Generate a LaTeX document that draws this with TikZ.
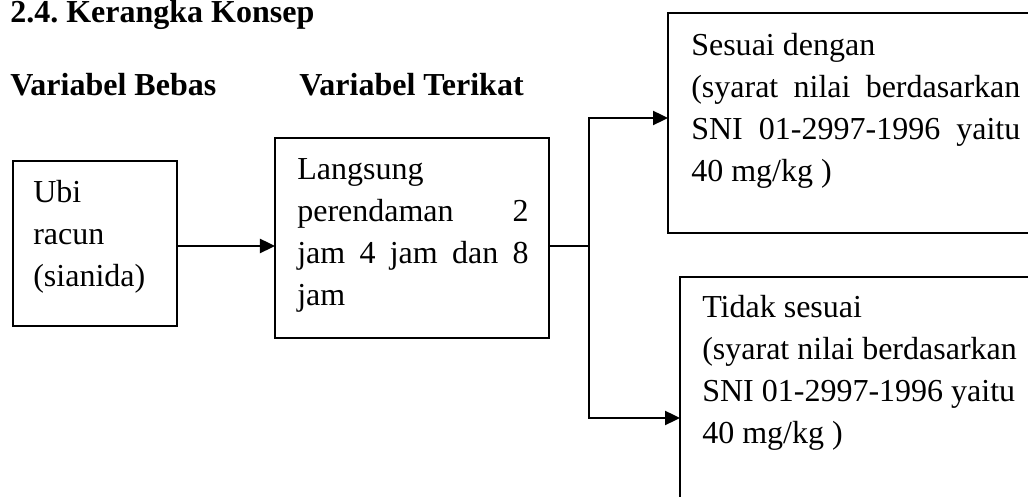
\documentclass[tikz,border=0pt]{standalone}
\usepackage{fontspec}
\setmainfont{Liberation Serif}
\usetikzlibrary{positioning}
\usetikzlibrary{arrows.meta}
\frenchspacing
\tikzset{
    every node/.append style={
        font=\fontsize{22.76pt}{29.88pt}\selectfont
    },
    kotak/.style={
        draw,
        rectangle,
        line width=1.1pt,
        inner sep=0pt,
        outer sep=0pt,
        anchor=north west
    },
    isi/.style={
        align=left,
        inner sep=0pt,
        anchor=north west
    },
    judul/.style={
        font=\fontsize{22.76pt}{29.88pt}\selectfont\bfseries,
        inner sep=0pt,
        anchor=base west
    },
    panah/.style={
        line width=1.7pt,
        -{Triangle[length=0.375cm, width=0.35cm]}
    },
    garis/.style={
        line width=1pt
    }
}

\begin{document}
\begin{tikzpicture}[x=0.025cm, y=-0.025cm]
            \useasboundingbox (0,0) rectangle (1028,497);
            \clip (0,0) rectangle (1028,497);

            \node[judul] (judul) at (10,23) {2.4. Kerangka Konsep};
            \node[judul] (bebas) at (10,96) {Variabel Bebas};
            \node[judul] (terikat) at (299,96) {Variabel Terikat};

            \node[kotak, minimum width=4.1cm, minimum height=4.125cm] (ubi) at (13,161) {};
            \node[kotak, minimum width=6.85cm, minimum height=5cm] (rendam) at (275,138) {};
            \node[kotak, minimum width=10.8cm, minimum height=5.5cm] (sesuai) at (668,13) {};
            \node[kotak, minimum width=10.5cm, minimum height=7.5cm] (tidak) at (680,277) {};

            \node[isi, below right=0.29cm and 0.5cm of ubi.north west] (ubiteks)
                {\strut Ubi\\racun\\(sianida)};
            \node[isi, below right=0.29cm and 0.55cm of rendam.north west] (rendamteks)
                {\strut Langsung\\ \makebox[5.78cm][s]{perendaman 2}\\ \makebox[5.78cm][s]{jam 4 jam dan 8}\\ jam};
            \node[isi, below right=0.31cm and 0.575cm of sesuai.north west] (sesuaiteks)
                {\strut Sesuai dengan\\ \makebox[8.225cm][s]{(syarat nilai berdasarkan}\\ \makebox[8.225cm][s]{SNI 01-2997-1996 yaitu}\\ 40 mg/kg )};
            \node[isi, below right=0.27cm and 0.55cm of tidak.north west] (tidakteks)
                {\strut Tidak sesuai\\(syarat nilai berdasarkan\\SNI 01-2997-1996 yaitu\\40 mg/kg )};

            \coordinate (tengah) at (0,246);
            \coordinate (cabang) at (589,246);
            \coordinate (atas) at (589,118);
            \coordinate (bawah) at (589,418);

            \draw[panah] (ubi.east |- tengah) -- (rendam.west |- tengah);
            \draw[garis] (rendam.east |- tengah) -- (cabang);
            \draw[panah] (cabang) -- (atas) -- (sesuai.west |- atas);
            \draw[panah] (cabang) -- (bawah) -- (tidak.west |- bawah);
        \end{tikzpicture}
\end{document}
